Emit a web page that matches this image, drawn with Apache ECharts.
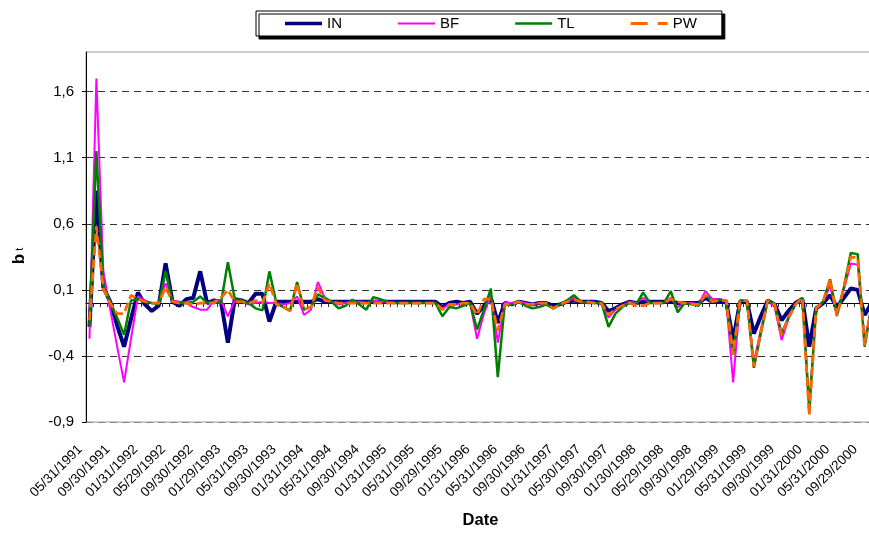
<!DOCTYPE html>
<html>
<head>
<meta charset="utf-8">
<script src="https://cdn.jsdelivr.net/npm/echarts@6/dist/echarts.min.js"></script>
<style>
  body { margin: 0; background: #fff; }
  #chart { width: 869px; height: 534px; }
</style>
</head>
<body>
<div id="chart"></div>
<script>
// labels shown every 4th month, starting 05/1991
const tickLabels = [
  '05/31/1991', '09/30/1991', '01/31/1992', '05/29/1992', '09/30/1992', '01/29/1993',
  '05/31/1993', '09/30/1993', '01/31/1994', '05/31/1994', '09/30/1994', '01/31/1995',
  '05/31/1995', '09/29/1995', '01/31/1996', '05/31/1996', '09/30/1996', '01/31/1997',
  '05/30/1997', '09/30/1997', '01/30/1998', '05/29/1998', '09/30/1998', '01/29/1999',
  '05/31/1999', '09/30/1999', '01/31/2000', '05/31/2000', '09/29/2000'
]

const seriesIN = [
  -0.18, 0.85, 0.12, 0.01, -0.17, -0.33, -0.12, 0.08, -0.01, -0.06,
  -0.02, 0.30, 0.01, -0.02, 0.03, 0.04, 0.24, 0.00, 0.02, 0.01,
  -0.30, 0.03, 0.02, 0.00, 0.07, 0.07, -0.14, 0.01, 0.01, 0.01,
  0.01, 0.01, 0.01, 0.03, 0.01, 0.01, 0.01, 0.01, 0.01, 0.01,
  0.01, 0.01, 0.01, 0.01, 0.01, 0.01, 0.01, 0.01, 0.01, 0.01,
  0.01, -0.03, 0.00, 0.01, 0.00, 0.01, -0.08, -0.02, 0.04, -0.15,
  0.00, -0.01, 0.01, 0.00, -0.01, 0.00, 0.00, -0.02, -0.01, 0.01,
  0.02, 0.01, 0.01, 0.01, 0.00, -0.06, -0.04, -0.01, 0.01, 0.00,
  0.01, 0.01, 0.01, 0.01, 0.01, 0.00, 0.00, 0.00, 0.00, 0.04,
  0.01, 0.01, 0.01, -0.28, 0.01, 0.01, -0.23, -0.10, 0.02, -0.01,
  -0.13, -0.06, 0.00, 0.03, -0.33, -0.04, 0.00, 0.06, -0.03, 0.04,
  0.11, 0.10, -0.09, 0.00
]
const seriesBF = [
  -0.27, 1.70, 0.24, -0.05, -0.33, -0.60, -0.27, 0.05, 0.02, 0.00,
  0.00, 0.15, 0.02, 0.01, 0.00, -0.03, -0.05, -0.05, 0.02, 0.02,
  -0.10, 0.02, 0.01, -0.01, 0.00, 0.01, 0.00, 0.00, -0.01, 0.00,
  0.05, -0.09, -0.05, 0.16, 0.04, 0.01, -0.01, 0.00, 0.01, 0.01,
  0.00, 0.02, 0.01, 0.01, 0.00, 0.00, 0.00, 0.00, 0.00, 0.00,
  0.00, -0.04, -0.01, -0.01, 0.00, 0.00, -0.27, -0.08, 0.06, -0.30,
  0.00, 0.00, 0.01, 0.00, -0.01, 0.00, -0.01, -0.04, -0.01, 0.01,
  0.04, 0.01, 0.00, 0.00, 0.00, -0.11, -0.05, -0.02, 0.01, 0.00,
  0.04, 0.00, 0.00, 0.00, 0.04, -0.03, 0.00, 0.00, -0.01, 0.09,
  0.03, 0.03, 0.02, -0.60, 0.02, 0.02, -0.45, -0.20, 0.02, -0.03,
  -0.28, -0.12, -0.01, 0.04, -0.78, -0.04, 0.01, 0.13, -0.09, 0.10,
  0.30, 0.29, -0.28, -0.03
]
const seriesTL = [
  -0.17, 1.15, 0.14, 0.00, -0.11, -0.24, 0.02, 0.03, 0.01, 0.00,
  -0.01, 0.24, 0.01, 0.00, 0.00, 0.01, 0.05, 0.00, 0.01, 0.00,
  0.31, 0.03, 0.02, 0.00, -0.04, -0.055, 0.24, 0.00, -0.03, -0.055,
  0.16, -0.05, -0.03, 0.065, 0.04, 0.01, -0.04, -0.02, 0.025, -0.01,
  -0.05, 0.045, 0.03, 0.01, 0.00, 0.00, 0.00, 0.00, 0.00, 0.00,
  0.00, -0.10, -0.03, -0.04, -0.02, 0.00, -0.20, -0.05, 0.11, -0.56,
  -0.01, -0.01, 0.01, -0.02, -0.04, -0.03, -0.01, -0.04, -0.01, 0.02,
  0.06, 0.01, 0.00, 0.00, 0.00, -0.18, -0.08, -0.03, 0.00, -0.01,
  0.08, 0.00, 0.00, 0.00, 0.09, -0.07, 0.00, -0.01, -0.02, 0.06,
  0.01, 0.025, 0.02, -0.39, 0.02, 0.02, -0.49, -0.23, 0.02, -0.01,
  -0.23, -0.11, -0.01, 0.04, -0.81, -0.04, 0.01, 0.18, -0.09, 0.12,
  0.38, 0.37, -0.33, -0.02
]
const seriesPW = [
  -0.13, 0.58, 0.11, 0.00, -0.08, -0.08, 0.06, 0.03, 0.01, 0.00,
  0.00, 0.12, 0.01, 0.00, 0.00, -0.01, 0.00, 0.00, 0.00, 0.04,
  0.10, 0.01, 0.01, 0.00, 0.02, 0.00, 0.15, -0.01, -0.03, -0.06,
  0.15, -0.05, -0.03, 0.12, 0.02, 0.01, 0.00, 0.00, 0.00, 0.00,
  0.00, 0.00, 0.00, 0.00, 0.00, 0.00, 0.00, 0.00, 0.00, 0.00,
  0.00, -0.05, -0.01, -0.01, 0.00, 0.00, -0.09, 0.03, 0.03, -0.21,
  -0.01, -0.01, 0.01, -0.01, -0.01, 0.00, 0.00, -0.04, -0.01, 0.01,
  0.025, 0.01, 0.01, 0.00, 0.00, -0.09, -0.045, -0.02, 0.00, -0.02,
  -0.02, 0.00, 0.00, 0.00, 0.03, 0.01, 0.00, -0.01, -0.01, 0.06,
  0.01, 0.02, 0.02, -0.39, 0.02, 0.02, -0.48, -0.22, 0.02, -0.01,
  -0.24, -0.11, -0.01, 0.04, -0.85, -0.04, 0.01, 0.18, -0.10, 0.12,
  0.35, 0.34, -0.32, -0.03
]

// one category per month; only every 4th gets a printed label
const categories = []
for (let i = 0; i < seriesIN.length; i++) {
  if (i % 4 === 0 && tickLabels[i / 4]) {
    categories.push(tickLabels[i / 4])
  } else {
    const m = 4 + i
    const mm = String((m % 12) + 1).padStart(2, '0')
    categories.push(mm + '/' + (1991 + Math.floor(m / 12)))
  }
}

const font = 'Liberation Sans, Arial, sans-serif'

// legend samples: plain strokes, PW as a dash pair (box 37x14)
const legendIcons = {
  IN: 'path://M0,0L0,0M0,5.25H37V8.75H0ZM0,14L0,14',
  BF: 'path://M0,0L0,0M0,5.9H37V8.1H0ZM0,14L0,14',
  TL: 'path://M0,0L0,0M0,5.8H37V8.2H0ZM0,14L0,14',
  PW: 'path://M0,0L0,0M0,5.5H17V8.5H0ZM27,5.5H37V8.5H27ZM0,14L0,14'
}

const option = {
  backgroundColor: '#fff',
  animation: false,
  textStyle: { fontFamily: font },
  legend: {
    left: 256,
    top: 11,
    data: ['IN', 'BF', 'TL', 'PW'].map(n => ({ name: n, icon: legendIcons[n] })),
    itemWidth: 37,
    itemHeight: 14,
    itemGap: 56,
    padding: [5, 25, 5, 29],
    itemStyle: { borderWidth: 0 },
    backgroundColor: '#fff',
    borderColor: '#000',
    borderWidth: 1,
    borderRadius: 0,
    shadowColor: '#000',
    shadowBlur: 0,
    shadowOffsetX: 3,
    shadowOffsetY: 3,
    textStyle: { fontSize: 15, color: '#000', width: 24, fontFamily: font }
  },
  grid: {
    left: 86,
    width: 789,
    top: 52,
    bottom: 112,
    outerBoundsMode: 'none',
    show: true,
    borderColor: '#999',
    borderWidth: 1
  },
  xAxis: [
    {
      // axis line crossing at zero, with a tick per month
      type: 'category',
      data: categories,
      boundaryGap: true,
      axisLine: { onZero: true, lineStyle: { color: '#000', width: 1 } },
      axisTick: { show: true, interval: 0, length: 4, lineStyle: { color: '#333' } },
      axisLabel: { show: false },
      splitLine: { show: false }
    },
    {
      // labels and title below the plot
      type: 'category',
      data: categories,
      position: 'bottom',
      boundaryGap: true,
      axisLine: { show: false, onZero: false },
      axisTick: { show: false },
      axisLabel: {
        interval: 3,
        rotate: 45,
        margin: 16,
        padding: [0, 13, 0, 0],
        fontSize: 13.5,
        color: '#000',
        fontFamily: font
      },
      name: 'Date',
      nameLocation: 'middle',
      nameGap: 90,
      nameTextStyle: { fontSize: 16.5, fontWeight: 'bold', color: '#000', fontFamily: font }
    }
  ],
  yAxis: {
    type: 'value',
    min: -0.9,
    max: 1.9,
    interval: 0.5,
    axisLine: { show: true, onZero: false, lineStyle: { color: '#000', width: 1 } },
    axisTick: { show: true, length: 4, lineStyle: { color: '#000' } },
    axisLabel: {
      margin: 12,
      fontSize: 15,
      color: '#000',
      fontFamily: font,
      showMaxLabel: false,
      formatter: v => v.toFixed(1).replace('.', ',')
    },
    splitLine: {
      show: true,
      showMaxLine: false,
      lineStyle: {
        color: ['#888', '#333', '#333', '#333', '#333', '#333', '#333'],
        type: [7, 5],
        width: 1
      }
    },
    name: '{b|b}{t| t}',
    nameLocation: 'middle',
    nameRotate: 90,
    nameGap: 58,
    nameTextStyle: {
      padding: [0, 38, 0, 0],
      rich: {
        b: { fontSize: 17, fontWeight: 'bold', color: '#000', fontFamily: font },
        t: { fontSize: 11, color: '#000', fontFamily: font }
      }
    }
  },
  series: [
    {
      name: 'IN', type: 'line', data: seriesIN, symbol: 'none',
      lineStyle: { color: '#000080', width: 4 }, itemStyle: { color: '#000080' }
    },
    {
      name: 'BF', type: 'line', data: seriesBF, symbol: 'none',
      lineStyle: { color: '#ff00ff', width: 2 }, itemStyle: { color: '#ff00ff' }
    },
    {
      name: 'TL', type: 'line', data: seriesTL, symbol: 'none',
      lineStyle: { color: '#008000', width: 2.5 }, itemStyle: { color: '#008000' }
    },
    {
      name: 'PW', type: 'line', data: seriesPW, symbol: 'none',
      lineStyle: { color: '#ff6600', width: 2.75, type: [9, 4] }, itemStyle: { color: '#ff6600' }
    }
  ]
}

const myChart = echarts.init(document.getElementById('chart'))
myChart.setOption(option)
</script>
</body>
</html>
